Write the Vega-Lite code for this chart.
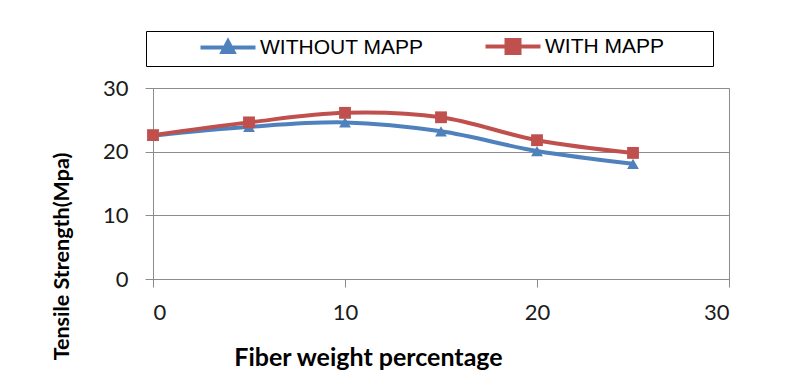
{
  "$schema": "https://vega.github.io/schema/vega-lite/v6.json",
  "width": 576,
  "height": 191,
  "autosize": {"type": "none"},
  "padding": {"left": 153, "top": 88, "right": 57, "bottom": 92},
  "background": "white",
  "config": {
    "font": "Lato",
    "view": {"stroke": "#8c8c8c", "strokeWidth": 1},
    "axis": {
      "labelFont": "Lato",
      "labelFontSize": 22,
      "labelColor": "#1a1a1a",
      "titleFont": "Lato",
      "titleFontWeight": "bold",
      "titleColor": "#000000",
      "domainColor": "#8c8c8c",
      "tickColor": "#8c8c8c",
      "gridColor": "#8c8c8c",
      "tickSize": 8
    },
    "legend": {
      "labelFont": "Liberation Sans",
      "labelFontSize": 21,
      "labelColor": "#000000",
      "labelLimit": 400
    }
  },
  "data": {
    "values": [
      {"fiber": 0, "strength": 22.5, "series": "WITHOUT MAPP"},
      {"fiber": 5, "strength": 23.9, "series": "WITHOUT MAPP"},
      {"fiber": 10, "strength": 24.6, "series": "WITHOUT MAPP"},
      {"fiber": 15, "strength": 23.2, "series": "WITHOUT MAPP"},
      {"fiber": 20, "strength": 20.1, "series": "WITHOUT MAPP"},
      {"fiber": 25, "strength": 18.1, "series": "WITHOUT MAPP"},
      {"fiber": 0, "strength": 22.6, "series": "WITH MAPP"},
      {"fiber": 5, "strength": 24.6, "series": "WITH MAPP"},
      {"fiber": 10, "strength": 26.1, "series": "WITH MAPP"},
      {"fiber": 15, "strength": 25.4, "series": "WITH MAPP"},
      {"fiber": 20, "strength": 21.8, "series": "WITH MAPP"},
      {"fiber": 25, "strength": 19.8, "series": "WITH MAPP"}
    ]
  },
  "encoding": {
    "x": {
      "field": "fiber",
      "type": "quantitative",
      "scale": {"domain": [0, 30], "nice": false},
      "axis": {
        "values": [0, 10, 20, 30],
        "grid": false,
        "labelPadding": 15,
        "title": "Fiber weight percentage",
        "titleFontSize": 25,
        "titleX": 215,
        "titleY": 86,
        "titleBaseline": "alphabetic",
        "titleAlign": "center"
      }
    },
    "y": {
      "field": "strength",
      "type": "quantitative",
      "scale": {"domain": [0, 30], "nice": false},
      "axis": {
        "values": [0, 10, 20, 30],
        "grid": true,
        "labelPadding": 17,
        "title": "Tensile Strength(Mpa)",
        "titleFontSize": 21.5,
        "titleX": -85,
        "titleY": 168,
        "titleBaseline": "alphabetic",
        "titleAlign": "center",
        "titleAngle": -90
      }
    },
    "color": {
      "field": "series",
      "type": "nominal",
      "scale": {"domain": ["WITHOUT MAPP", "WITH MAPP"], "range": ["#4F81BD", "#C0504D"]},
      "legend": {
        "title": null,
        "orient": "none",
        "direction": "horizontal",
        "legendX": -7,
        "legendY": -57,
        "strokeColor": "#000000",
        "fillColor": "#ffffff",
        "padding": 5,
        "columnPadding": 12,
        "symbolOffset": 44,
        "labelOffset": 44,
        "symbolSize": 100,
        "symbolStrokeWidth": 4,
        "encode": {
          "symbols": {
            "update": {
              "shape": [
                {"test": "datum.value === 'WITHOUT MAPP'", "value": "M-1,0H10M3.4,0.9L4.5,-1.2L5.6,0.9Z"},
                {"value": "M-1,0H10M41.8,0M3.2,-1.3H5.8V1.3H3.2Z"}
              ],
              "size": {"value": 100},
              "strokeWidth": {"value": 4},
              "stroke": {"scale": "color", "field": "value"},
              "fill": {"scale": "color", "field": "value"},
              "opacity": {"value": 1}
            }
          }
        }
      }
    }
  },
  "layer": [
    {
      "mark": {"type": "line", "interpolate": "catmull-rom", "strokeWidth": 4}
    },
    {
      "transform": [{"filter": "datum.series === 'WITHOUT MAPP'"}],
      "mark": {"type": "point", "shape": "triangle-up", "filled": true, "opacity": 1, "size": 140}
    },
    {
      "transform": [{"filter": "datum.series === 'WITH MAPP'"}],
      "mark": {"type": "point", "shape": "square", "filled": true, "opacity": 1, "size": 140}
    }
  ]
}
